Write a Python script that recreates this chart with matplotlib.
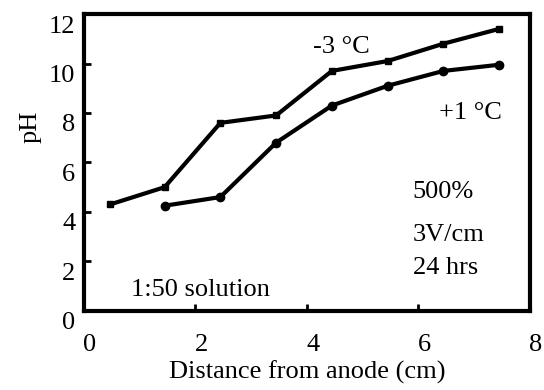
import numpy as np
import matplotlib.pyplot as plt
import matplotlib.transforms as mtransforms

plt.rcParams['font.family'] = 'Liberation Serif'

# -3 C series (squares)
x_cold = [0.47, 1.45, 2.45, 3.45, 4.45, 5.45, 6.45, 7.45]
ph_cold = [4.3, 5.0, 7.6, 7.9, 9.7, 10.1, 10.8, 11.4]
# +1 C series (circles)
x_warm = [1.45, 2.45, 3.45, 4.45, 5.45, 6.45, 7.45]
ph_warm = [4.25, 4.6, 6.8, 8.3, 9.1, 9.7, 9.95]

xticks = [0, 2, 4, 6, 8]
yticks = [0, 2, 4, 6, 8, 10, 12]
fs = 19

fig = plt.figure(figsize=(5.44, 3.9), dpi=100)
ax = fig.add_axes([0.154, 0.203, 0.82, 0.761])

ax.plot(x_cold, ph_cold, color='black', lw=3, marker='s', ms=5)
ax.plot(x_warm, ph_warm, color='black', lw=3, marker='o', ms=6)

ax.set_xlim(0, 7.89)
ax.set_ylim(0, 12)
ax.set_xticks(xticks)
ax.set_yticks(yticks)
ax.tick_params(direction='in', length=5, width=2, labelsize=fs)
ax.tick_params(axis='x', pad=17)
ax.tick_params(axis='y', pad=6)
for s in ax.spines.values():
    s.set_linewidth(3)

# shift tick labels like the original print
dx = mtransforms.ScaledTranslation(6/100, 0, fig.dpi_scale_trans)
for lab in ax.get_xticklabels():
    lab.set_transform(lab.get_transform() + dx)
dy = mtransforms.ScaledTranslation(0, -10/100, fig.dpi_scale_trans)
for lab in ax.get_yticklabels():
    lab.set_transform(lab.get_transform() + dy)

ax.set_xlabel('Distance from anode (cm)', fontsize=fs, labelpad=3)
ax.set_ylabel('pH', fontsize=fs)
ax.yaxis.set_label_coords(-0.095, 0.62)

ax.text(4.62, 10.67, '-3 °C', fontsize=fs, ha='center', va='center')
ax.text(6.94, 8.0, '+1 °C', fontsize=fs, ha='center', va='center')
ax.text(5.9, 4.8, '500%', fontsize=fs, ha='left', va='center')
ax.text(5.9, 3.07, '3V/cm', fontsize=fs, ha='left', va='center')
ax.text(5.9, 1.74, '24 hrs', fontsize=fs, ha='left', va='center')
ax.text(2.1, 0.85, '1:50 solution', fontsize=fs, ha='center', va='center')

fig.savefig('out.png', dpi=100)
